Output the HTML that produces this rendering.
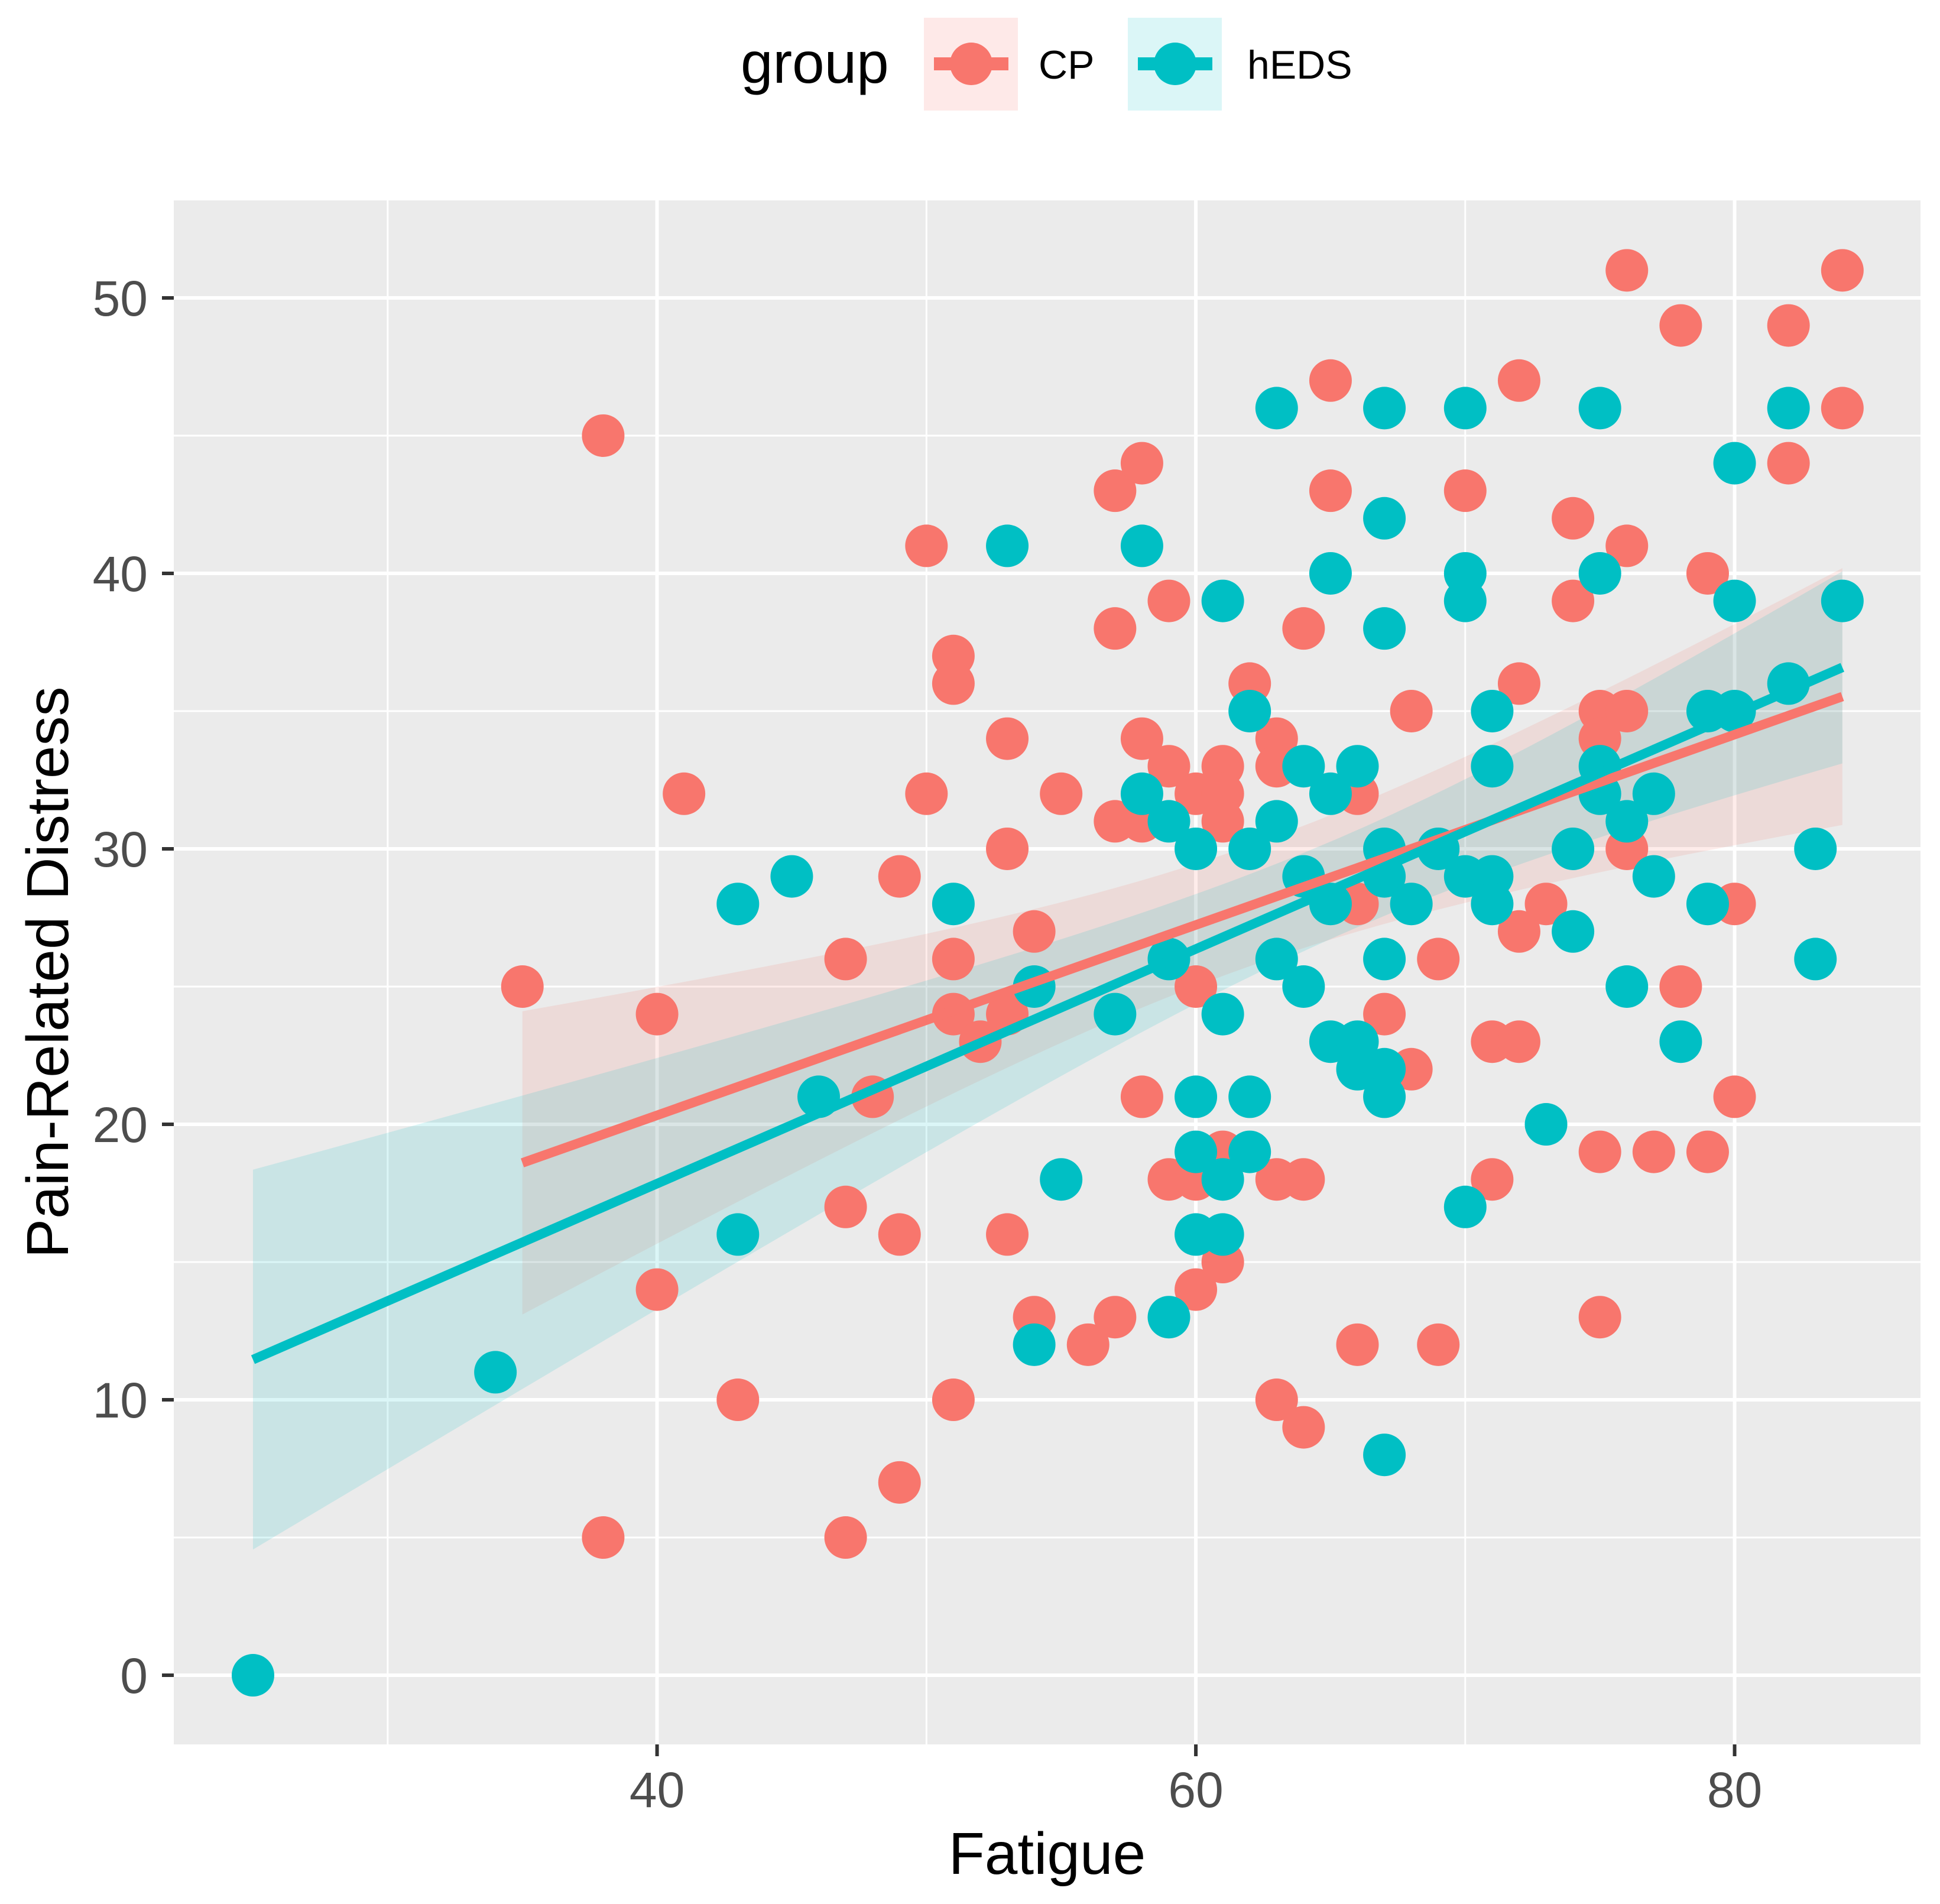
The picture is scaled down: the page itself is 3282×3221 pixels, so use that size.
<!DOCTYPE html>
<html><head><meta charset="utf-8"><style>
html,body{margin:0;padding:0;background:#fff;}
svg{display:block;font-family:"Liberation Sans",Arial,sans-serif;}
</style></head><body>
<svg id="chart" xmlns="http://www.w3.org/2000/svg" width="3282" height="3221" viewBox="0 0 3282 3221">
<rect x="0" y="0" width="3282" height="3221" fill="#ffffff"/>
<g id="legend">
  <text x="1253" y="140" font-size="98" fill="#000">group</text>
  <g>
    <rect x="1563" y="30" width="159" height="157" fill="#F8766D" fill-opacity="0.16"/>
    <line x1="1580" y1="108" x2="1706" y2="108" stroke="#F8766D" stroke-width="22"/>
    <circle cx="1643" cy="108" r="36" fill="#F8766D"/>
    <text x="1757" y="133" font-size="68" fill="#000">CP</text>
  </g>
  <g>
    <rect x="1908" y="30" width="159" height="157" fill="#00BFC4" fill-opacity="0.14"/>
    <line x1="1925" y1="108" x2="2051" y2="108" stroke="#00BFC4" stroke-width="22"/>
    <circle cx="1988" cy="108" r="36" fill="#00BFC4"/>
    <text x="2110" y="133" font-size="68" fill="#000">hEDS</text>
  </g>
</g>
<g id="plot"></g>
</svg>
<script>
const cpX=[35,38,38,40,40,41,43,47,47,47,48,49,49,49,50,50,51,51,51,51,51,52,53,53,53,53,54,54,55,56,57,57,57,57,58,58,58,58,59,59,59,60,60,60,60,61,61,61,61,61,62,63,63,63,63,64,64,64,65,65,66,66,66,67,68,68,69,69,70,71,71,72,72,72,72,73,74,74,75,75,75,75,76,76,76,76,77,78,78,79,79,80,80,82,82,84,84];
const cpY=[25,45,5,24,14,32,10,26,17,5,21,29,16,7,41,32,37,36,26,24,10,23,34,30,24,16,27,13,32,12,43,38,31,13,44,34,31,21,39,33,18,32,25,18,14,33,32,31,19,15,36,34,33,18,10,38,18,9,47,43,32,28,12,24,35,22,26,12,43,23,18,47,36,27,23,28,42,39,35,34,19,13,51,41,35,30,19,49,25,40,19,28,21,49,44,51,46];
const hX=[25,34,43,43,45,46,51,53,54,54,55,57,58,58,59,59,59,60,60,60,60,61,61,61,61,62,62,62,62,63,63,63,64,64,64,65,65,65,65,66,66,66,67,67,67,67,67,67,67,67,67,68,69,70,70,70,70,70,71,71,71,71,73,74,74,75,75,75,75,76,76,77,77,78,79,79,80,80,80,82,82,83,83,84];
const hY=[0,11,16,28,29,21,28,41,25,12,18,24,41,32,31,26,13,30,21,19,16,39,24,18,16,35,30,21,19,46,31,26,33,29,25,40,32,28,23,33,23,22,46,42,38,30,29,26,22,21,8,28,30,46,40,39,29,17,35,33,29,28,20,30,27,46,40,33,32,31,25,32,29,23,35,28,44,39,35,46,36,30,26,39];
const xTicks=[40,60,80];
const xMinor=[30,50,70];
const yTicks=[0,10,20,30,40,50];
const yMinor=[5,15,25,35,45];

const PL=294,PR=3249,PT=339,PB=2951;
const X0=22.06,X1=86.9,Y0=-2.51,Y1=53.54;
const sx=v=>PL+(v-X0)/(X1-X0)*(PR-PL);
const sy=v=>PB-(v-Y0)/(Y1-Y0)*(PB-PT);
const NS="http://www.w3.org/2000/svg";
const plot=document.getElementById('plot');
function mk(tag,attrs,parent){const e=document.createElementNS(NS,tag);for(const k in attrs)e.setAttribute(k,attrs[k]);(parent||plot).appendChild(e);return e;}

const panel=mk('rect',{x:PL,y:PT,width:PR-PL,height:PB-PT,fill:'#EBEBEB'});


xMinor.forEach(v=>{const l=mk('line',{x1:sx(v),x2:sx(v),y1:PT,y2:PB,stroke:'#fff','stroke-width':3});

});
yMinor.forEach(v=>{const l=mk('line',{x1:PL,x2:PR,y1:sy(v),y2:sy(v),stroke:'#fff','stroke-width':3});

});
xTicks.forEach(v=>{const l=mk('line',{x1:sx(v),x2:sx(v),y1:PT,y2:PB,stroke:'#fff','stroke-width':6});


const t=mk('line',{x1:sx(v),x2:sx(v),y1:PB,y2:PB+20,stroke:'#333','stroke-width':6});


const tx=mk('text',{x:sx(v),y:3057,'font-size':84,fill:'#4D4D4D','text-anchor':'middle'});tx.textContent=v;

});
yTicks.forEach(v=>{const l=mk('line',{x1:PL,x2:PR,y1:sy(v),y2:sy(v),stroke:'#fff','stroke-width':6});


const t=mk('line',{x1:PL-20,x2:PL,y1:sy(v),y2:sy(v),stroke:'#333','stroke-width':6});


const tx=mk('text',{x:250,y:sy(v)+30,'font-size':84,fill:'#4D4D4D','text-anchor':'end'});tx.textContent=v;

});

function fit(xs,ys){
  const n=xs.length;let mx=0,my=0;for(let i=0;i<n;i++){mx+=xs[i];my+=ys[i];}mx/=n;my/=n;
  let sxx=0,sxy=0;for(let i=0;i<n;i++){sxx+=(xs[i]-mx)**2;sxy+=(xs[i]-mx)*(ys[i]-my);}
  const b=sxy/sxx,a=my-b*mx;let sse=0;for(let i=0;i<n;i++){sse+=(ys[i]-a-b*xs[i])**2;}
  const s=Math.sqrt(sse/(n-2));return {a,b,mx,sxx,s,n,min:Math.min(...xs),max:Math.max(...xs)};
}
function drawPoints(xs,ys,col,name){
  const g=mk('g',{});
  
  
  for(let i=0;i<xs.length;i++){const c=mk('circle',{cx:sx(xs[i]),cy:sy(ys[i]),r:36,fill:col},g);
  
  }
}
function drawBand(f,col,name,op){
  const up=[],lo=[];const N=60;
  for(let k=0;k<=N;k++){const x=f.min+(f.max-f.min)*k/N;const yh=f.a+f.b*x;
    const se=f.s*Math.sqrt(1/f.n+(x-f.mx)**2/f.sxx)*1.985;
    up.push(sx(x)+','+sy(yh+se));lo.unshift(sx(x)+','+sy(yh-se));}
  const p=mk('polygon',{points:up.concat(lo).join(' '),fill:col,'fill-opacity':op});
  
  
}
function drawLine(f,col,name){
  const l=mk('line',{x1:sx(f.min),y1:sy(f.a+f.b*f.min),x2:sx(f.max),y2:sy(f.a+f.b*f.max),stroke:col,'stroke-width':16});
  
  
}
const fc=fit(cpX,cpY),fh=fit(hX,hY);
drawBand(fc,'#F8766D','cp-confidence-band',0.14);
drawBand(fh,'#00BFC4','heds-confidence-band',0.14);
drawPoints(cpX,cpY,'#F8766D','cp-points');
drawPoints(hX,hY,'#00BFC4','heds-points');
drawLine(fc,'#F8766D','cp-trend-line');
drawLine(fh,'#00BFC4','heds-trend-line');

const xt=mk('text',{x:(PL+PR)/2,y:3170,'font-size':100,fill:'#000','text-anchor':'middle'});xt.textContent='Fatigue';


const yt=mk('text',{x:0,y:0,'font-size':100,fill:'#000','text-anchor':'middle',transform:'translate(115,'+((PT+PB)/2)+') rotate(-90)'});yt.textContent='Pain-Related Distress';


</script>
</body></html>
